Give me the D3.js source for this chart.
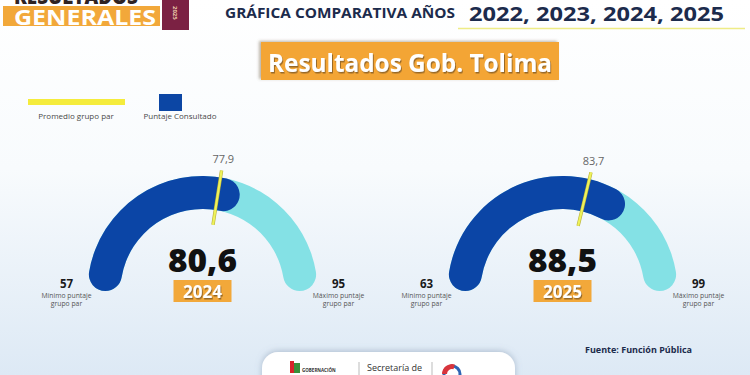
<!DOCTYPE html>
<html>
<head>
    <meta charset="utf-8">
    <title>Resultados Gob. Tolima</title>
    <script src="https://d3js.org/d3.v7.min.js"></script>
    <style>
        body { margin: 0; padding: 0; background: #ffffff; }
        svg { display: block; font-family: "Open Sans", "DejaVu Sans", sans-serif; }
    </style>
</head>

<body>
<div id="output"></div>

<script type="text/javascript">

    // data
    var years    = ["2024", "2025"];
    var puntaje  = [80.6, 88.5];     // Puntaje Consultado
    var promedio = [77.9, 83.7];     // Promedio grupo par
    var minimo   = [57, 63];         // Minimo puntaje grupo par
    var maximo   = [95, 99];         // Maximo puntaje grupo par

    var legendLabels = ["Promedio grupo par", "Puntaje Consultado"];
    var titleYears   = ["2022", "2023", "2024", "2025"];

    var w = 750;
    var h = 375;

    var locale = d3.formatLocale({decimal: ",", thousands: ".", grouping: [3], currency: ["$", ""]});
    var fmt = locale.format(".1f");

    var svg = d3.select("#output").append("svg")
        .attr("width", w)
        .attr("height", h);

    var defs = svg.append("defs");

    var bg = defs.append("linearGradient")
        .attr("id", "bg")
        .attr("x1", 0).attr("y1", 0).attr("x2", 0).attr("y2", 1);
    bg.append("stop").attr("offset", "0%").attr("stop-color", "#ffffff");
    bg.append("stop").attr("offset", "45%").attr("stop-color", "#f8fbfd");
    bg.append("stop").attr("offset", "100%").attr("stop-color", "#dde9f5");

    var shadow = defs.append("filter").attr("id", "shadow")
        .attr("x", "-10%").attr("y", "-30%").attr("width", "120%").attr("height", "160%");
    shadow.append("feDropShadow")
        .attr("dx", -2).attr("dy", -1).attr("stdDeviation", 1.5)
        .attr("flood-color", "#6b5a40").attr("flood-opacity", 0.45);

    var textShadow = defs.append("filter").attr("id", "tshadow");
    textShadow.append("feDropShadow")
        .attr("dx", 1).attr("dy", 1.5).attr("stdDeviation", 0.6)
        .attr("flood-color", "#5a4020").attr("flood-opacity", 0.6);

    var cardShadow = defs.append("filter").attr("id", "cshadow")
        .attr("x", "-10%").attr("y", "-40%").attr("width", "120%").attr("height", "180%");
    cardShadow.append("feDropShadow")
        .attr("dx", 0).attr("dy", -1).attr("stdDeviation", 3)
        .attr("flood-color", "#7a8ea8").attr("flood-opacity", 0.5);

    svg.append("rect")
        .attr("width", w).attr("height", h)
        .attr("fill", "url(#bg)");

    // ---------- header ----------
    svg.append("text")                                    // cropped top word
        .attr("x", 14).attr("y", 4)
        .attr("font-size", 21).attr("font-weight", 800)
        .attr("fill", "#2f2323")
        .attr("textLength", 124).attr("lengthAdjust", "spacingAndGlyphs")
        .text("RESULTADOS");

    svg.append("rect")
        .attr("x", 3).attr("y", 6).attr("width", 157).attr("height", 20)
        .attr("fill", "#f2a83a");

    svg.append("text")
        .attr("x", 14).attr("y", 24.5)
        .attr("font-size", 22).attr("font-weight", 700)
        .attr("fill", "#ffffff")
        .attr("textLength", 142).attr("lengthAdjust", "spacingAndGlyphs")
        .text("GENERALES");

    svg.append("rect")
        .attr("x", 162).attr("y", 0).attr("width", 27).attr("height", 30)
        .attr("fill", "#7b2143");

    svg.append("text")
        .attr("transform", "translate(173,6) rotate(90)")
        .attr("font-size", 6).attr("font-weight", 700)
        .attr("fill", "#e9c9a8")
        .text(titleYears[3]);

    svg.append("text")
        .attr("x", 225).attr("y", 18)
        .attr("font-size", 14).attr("font-weight", 700)
        .attr("fill", "#1c2b4c")
        .attr("textLength", 230).attr("lengthAdjust", "spacingAndGlyphs")
        .text("GRÁFICA COMPARATIVA AÑOS");

    svg.append("text")
        .attr("x", 469).attr("y", 20.5)
        .attr("font-size", 20).attr("font-weight", 700)
        .attr("fill", "#1c2b4c")
        .attr("textLength", 255).attr("lengthAdjust", "spacingAndGlyphs")
        .text(titleYears.join(", "));

    svg.append("line")
        .attr("x1", 458).attr("x2", 745).attr("y1", 28.5).attr("y2", 28.5)
        .attr("stroke", "#eeec86").attr("stroke-width", 1.5);

    svg.append("rect")
        .attr("x", 261).attr("y", 42).attr("width", 298).attr("height", 38)
        .attr("fill", "#f3a535")
        .attr("filter", "url(#shadow)");

    svg.append("text")
        .attr("x", 410).attr("y", 72)
        .attr("text-anchor", "middle")
        .attr("font-size", 25).attr("font-weight", 700)
        .attr("fill", "#ffffff")
        .attr("filter", "url(#tshadow)")
        .attr("textLength", 284).attr("lengthAdjust", "spacingAndGlyphs")
        .text("Resultados Gob. Tolima");

    // ---------- legend ----------
    var legend = svg.append("g");
    legend.append("rect")
        .attr("x", 28).attr("y", 99).attr("width", 97).attr("height", 6)
        .attr("fill", "#f5ec3c");
    legend.append("rect")
        .attr("x", 159).attr("y", 94).attr("width", 23).attr("height", 17)
        .attr("fill", "#0c46a4");
    legend.selectAll(".legend-label")
        .data(legendLabels)
        .enter()
        .append("text")
        .attr("class", "legend-label")
        .attr("x", function(d, i){ return i === 0 ? 76 : 180; })
        .attr("y", 119)
        .attr("text-anchor", "middle")
        .attr("font-size", 8).attr("fill", "#4a4a4a")
        .text(function(d){ return d; });

    // ---------- gauges ----------
    var centers = [202.5, 562.5];
    var cy = 291;
    var rIn = 82, rOut = 115;

    var arc = d3.arc()
        .innerRadius(rIn)
        .outerRadius(rOut)
        .cornerRadius((rOut - rIn) / 2);

    function polar(cx, r, a) {
        return [cx + r * Math.sin(a), cy - r * Math.cos(a)];
    }

    years.forEach(function(year, i){
        var cx = centers[i];

        var angle = d3.scaleLinear()                      // value -> angle of the half circle
            .domain([minimo[i], maximo[i]])
            .range([-Math.PI / 2, Math.PI / 2])
            .clamp(true);

        var g = svg.append("g")
            .attr("transform", "translate(" + cx + "," + cy + ")");

        g.append("path")                                  // full range
            .attr("d", arc({startAngle: angle(minimo[i]), endAngle: angle(maximo[i])}))
            .attr("fill", "#84e1e5");

        g.append("path")                                  // puntaje consultado
            .attr("d", arc({startAngle: angle(minimo[i]), endAngle: angle(puntaje[i])}))
            .attr("fill", "#0b45a6");

        var a = angle(promedio[i]);
        var p1 = polar(cx, rIn - 15, a), p2 = polar(cx, rOut + 7, a);
        svg.append("line")                                // promedio grupo par marker
            .attr("x1", p1[0]).attr("y1", p1[1])
            .attr("x2", p2[0]).attr("y2", p2[1])
            .attr("stroke", "#b9b13a").attr("stroke-width", 3.4);
        svg.append("line")
            .attr("x1", p1[0]).attr("y1", p1[1])
            .attr("x2", p2[0]).attr("y2", p2[1])
            .attr("stroke", "#eef25a").attr("stroke-width", 2.2);

        var pl = polar(cx, rOut + 18, a);
        svg.append("text")
            .attr("x", pl[0]).attr("y", pl[1])
            .attr("text-anchor", "middle")
            .attr("dominant-baseline", "middle")
            .attr("font-size", 11).attr("fill", "#666666")
            .text(fmt(promedio[i]));

        svg.append("text")                                // big value
            .attr("x", cx).attr("y", 272)
            .attr("text-anchor", "middle")
            .attr("font-size", 32).attr("font-weight", 800)
            .attr("fill", "#111111")
            .attr("textLength", 69).attr("lengthAdjust", "spacingAndGlyphs")
            .text(fmt(puntaje[i]));

        svg.append("rect")
            .attr("x", cx - 29).attr("y", 280).attr("width", 58).attr("height", 22)
            .attr("fill", "#f2a83a");

        svg.append("text")
            .attr("x", cx).attr("y", 297.5)
            .attr("text-anchor", "middle")
            .attr("font-size", 17).attr("font-weight", 700)
            .attr("fill", "#ffffff")
            .attr("filter", "url(#tshadow)")
            .text(year);

        // min / max labels
        [[minimo[i], -136, "Mínimo puntaje"], [maximo[i], 136, "Máximo puntaje"]].forEach(function(m){
            var lx = cx + m[1];
            svg.append("text")
                .attr("x", lx).attr("y", 288)
                .attr("text-anchor", "middle")
                .attr("font-size", 11.5).attr("font-weight", 700)
                .attr("fill", "#1a1a1a")
                .text(m[0]);
            svg.append("text")
                .attr("x", lx).attr("y", 298)
                .attr("text-anchor", "middle")
                .attr("font-size", 6.8).attr("fill", "#555555")
                .text(m[2]);
            svg.append("text")
                .attr("x", lx).attr("y", 305.5)
                .attr("text-anchor", "middle")
                .attr("font-size", 6.8).attr("fill", "#555555")
                .text("grupo par");
        });
    });

    // ---------- footer ----------
    svg.append("text")
        .attr("x", 585).attr("y", 353)
        .attr("font-size", 9).attr("font-weight", 700)
        .attr("fill", "#1c2b4c")
        .text("Fuente: Función Pública");

    var card = svg.append("g");
    card.append("rect")
        .attr("x", 262).attr("y", 352).attr("width", 253).attr("height", 45)
        .attr("rx", 16)
        .attr("fill", "#ffffff")
        .attr("filter", "url(#cshadow)");
    card.append("rect")
        .attr("x", 290).attr("y", 361).attr("width", 4).attr("height", 12)
        .attr("fill", "#d8232a");
    card.append("rect")
        .attr("x", 294).attr("y", 363).attr("width", 6).attr("height", 10)
        .attr("fill", "#3a8f3a");
    card.append("text")
        .attr("x", 302).attr("y", 372)
        .attr("font-size", 4.5).attr("font-weight", 700)
        .attr("fill", "#333333")
        .text("GOBERNACIÓN");
    card.append("line")
        .attr("x1", 359).attr("x2", 359).attr("y1", 362).attr("y2", 375)
        .attr("stroke", "#bbbbbb");
    card.append("text")
        .attr("x", 367).attr("y", 371)
        .attr("font-size", 9)
        .attr("fill", "#333333")
        .text("Secretaría de");
    card.append("line")
        .attr("x1", 432).attr("x2", 432).attr("y1", 362).attr("y2", 375)
        .attr("stroke", "#bbbbbb");
    card.append("circle")
        .attr("cx", 452).attr("cy", 374).attr("r", 8)
        .attr("fill", "none").attr("stroke", "#2e64b4").attr("stroke-width", 3);
    card.append("path")
        .attr("d", d3.arc().innerRadius(5).outerRadius(10)({startAngle: -Math.PI / 2, endAngle: 0.3}))
        .attr("transform", "translate(452,374)")
        .attr("fill", "#d8343c");

</script>

</body>
</html>
